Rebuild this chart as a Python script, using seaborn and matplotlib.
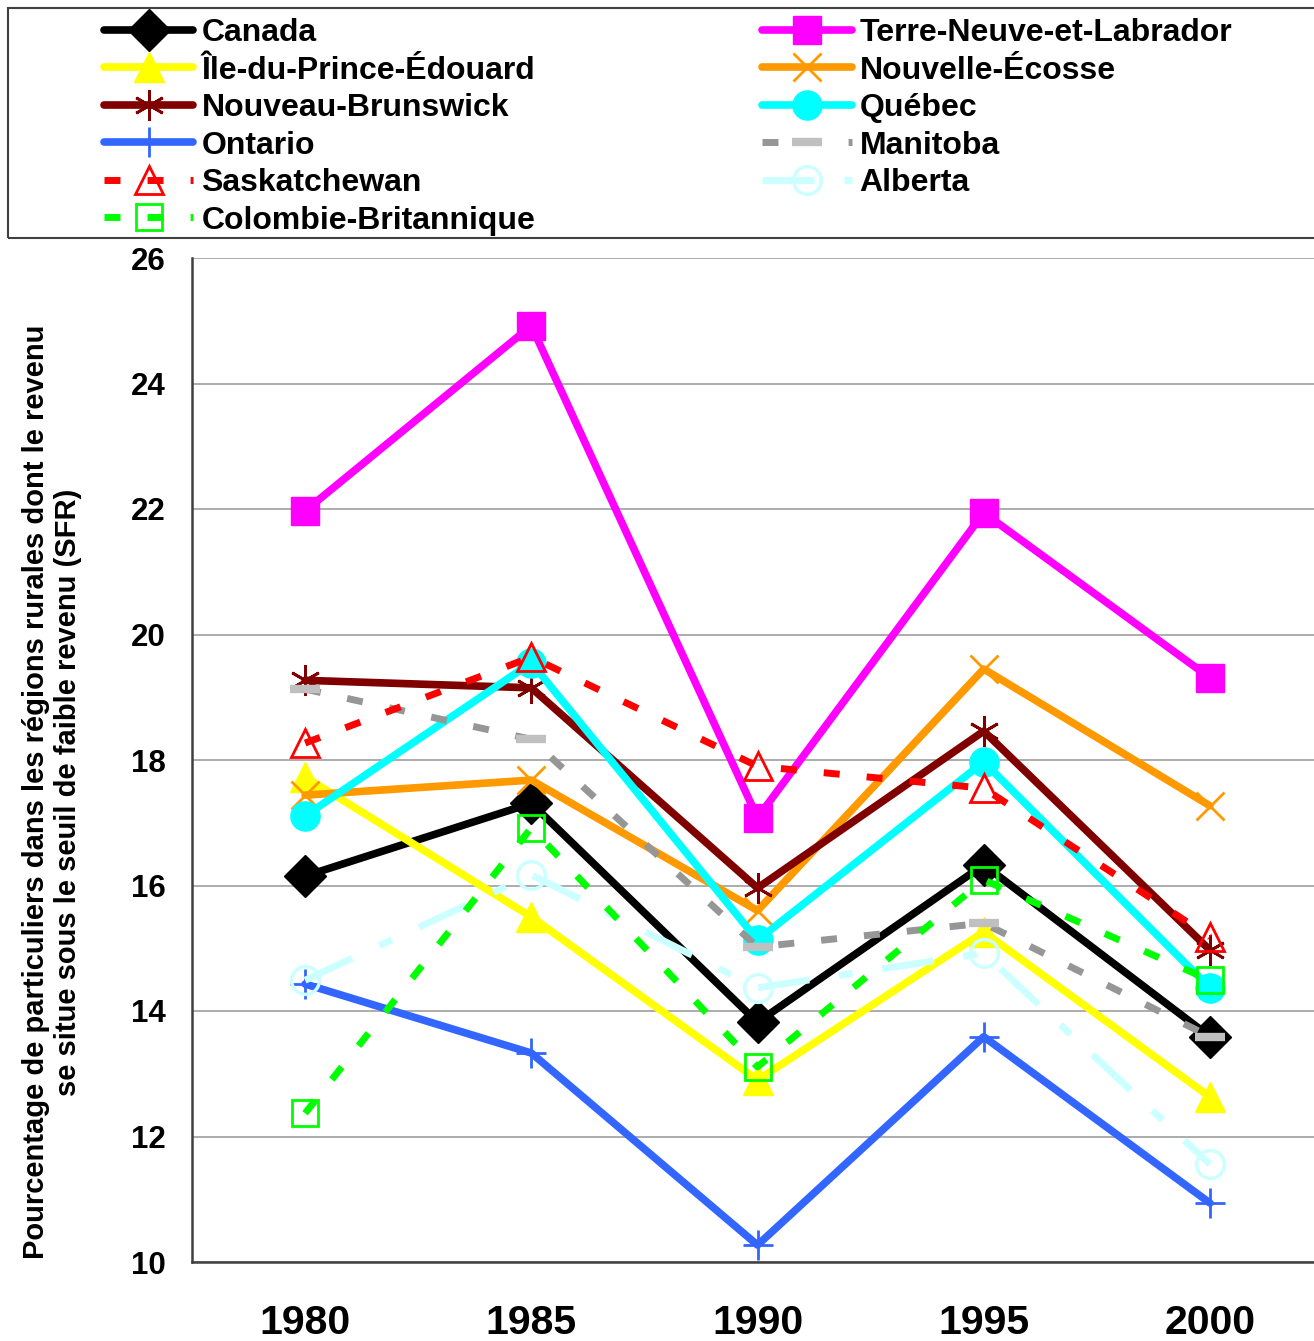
import matplotlib
matplotlib.use("Agg")
import matplotlib.pyplot as plt
import seaborn as sns
import pandas as pd
from matplotlib.patches import Rectangle

years = [1980, 1985, 1990, 1995, 2000]
canada = [16.15, 17.31, 13.82, 16.33, 13.59]
terre_neuve = [21.97, 24.92, 17.08, 21.94, 19.31]
ipe = [17.73, 15.50, 12.90, 15.26, 12.63]
nouvelle_ecosse = [17.44, 17.68, 15.60, 19.45, 17.27]
nouveau_brunswick = [19.27, 19.15, 15.96, 18.46, 14.97]
quebec = [17.11, 19.55, 15.13, 17.97, 14.37]
ontario = [14.43, 13.33, 10.27, 13.59, 10.94]
manitoba = [19.13, 18.33, 15.02, 15.40, 13.59]
saskatchewan = [18.27, 19.64, 17.90, 17.55, 15.18]
alberta = [14.49, 16.17, 14.37, 14.92, 11.56]
colombie_brit = [12.37, 16.92, 13.11, 16.09, 14.49]

names = ["Canada", "Terre-Neuve-et-Labrador", "Île-du-Prince-Édouard",
         "Nouvelle-Écosse", "Nouveau-Brunswick", "Québec", "Ontario",
         "Manitoba", "Saskatchewan", "Alberta", "Colombie-Britannique"]
values = [canada, terre_neuve, ipe, nouvelle_ecosse, nouveau_brunswick, quebec,
          ontario, manitoba, saskatchewan, alberta, colombie_brit]
yticks = [10, 12, 14, 16, 18, 20, 22, 24, 26]
ylabel = ("Pourcentage de particuliers dans les régions rurales dont le revenu\n"
          "se situe sous le seuil de faible revenu (SFR)")

styles = {
    "Canada": dict(color="#000000", lw=5.5, ls="-", marker="D", ms=21,
                   mfc="#000000", mec="#000000", mew=1),
    "Terre-Neuve-et-Labrador": dict(color="#ff00ff", lw=5.5, ls="-", marker="s", ms=20,
                                    mfc="#ff00ff", mec="#ff00ff", mew=1),
    "Île-du-Prince-Édouard": dict(color="#ffff00", lw=5.5, ls="-", marker="^", ms=21,
                                  mfc="#ffff00", mec="#ffff00", mew=1),
    "Nouvelle-Écosse": dict(color="#ff9900", lw=5.5, ls="-", marker="x", ms=20,
                            mfc="#ff9900", mec="#ff9900", mew=2),
    "Nouveau-Brunswick": dict(color="#800000", lw=5.5, ls="-", marker=(6, 2, 0), ms=22,
                              mfc="#800000", mec="#800000", mew=2),
    "Québec": dict(color="#00ffff", lw=5.5, ls="-", marker="o", ms=21,
                   mfc="#00ffff", mec="#00ffff", mew=1),
    "Ontario": dict(color="#3366ff", lw=5.5, ls="-", marker="+", ms=22,
                    mfc="#3366ff", mec="#3366ff", mew=2),
    "Manitoba": dict(color="#969696", lw=5, ls=(0, (2.3, 3.9)), marker="_", ms=22,
                     mfc="#c0c0c0", mec="#c0c0c0", mew=6),
    "Saskatchewan": dict(color="#ff0000", lw=5, ls=(0, (2.3, 3.9)), marker="^", ms=20,
                         mfc="none", mec="#ff0000", mew=2),
    "Alberta": dict(color="#ccffff", lw=5, ls=(0, (7.5, 4.3, 2.0, 4.3)), marker="o", ms=20,
                    mfc="none", mec="#ccffff", mew=2.5),
    "Colombie-Britannique": dict(color="#00ff00", lw=5, ls=(0, (2.3, 3.9)), marker="s", ms=19,
                                 mfc="none", mec="#00ff00", mew=2),
}

df = pd.DataFrame({"Année": years * len(names),
                   "Série": [n for n in names for _ in years],
                   "Valeur": [v for vals in values for v in vals]})

sns.set_theme(style="white")
plt.rcParams["font.family"] = ["Liberation Sans", "DejaVu Sans"]
plt.rcParams["font.weight"] = "bold"
plt.rcParams["text.color"] = "black"
plt.rcParams["xtick.color"] = "black"
plt.rcParams["ytick.color"] = "black"
plt.rcParams["axes.labelcolor"] = "black"

W, H = 1314, 1341
fig = plt.figure(figsize=(W / 100, H / 100), dpi=100)
ax = fig.add_axes([192 / W, 1 - 1262 / H, (W - 192) / W, (1262 - 258) / H])

for name in names:
    st = styles[name]
    sub = df[df["Série"] == name]
    sns.lineplot(data=sub, x="Année", y="Valeur", ax=ax, label=name,
                 color=st["color"], linewidth=st["lw"], linestyle=st["ls"],
                 marker=st["marker"], markersize=st["ms"],
                 markerfacecolor=st["mfc"], markeredgecolor=st["mec"],
                 markeredgewidth=st["mew"], errorbar=None)

handles, labels = ax.get_legend_handles_labels()
ax.get_legend().remove()

ax.set_xlim(1977.5, 2002.3)
ax.set_ylim(10, 26)
ax.set_xticks(years)
ax.set_xticklabels([str(y) for y in years], fontsize=29.5, fontweight="bold", color="black")
ax.set_yticks(yticks)
ax.set_yticklabels([str(t) for t in yticks], fontsize=22.5, fontweight="bold", color="black")
ax.tick_params(axis="x", length=0, pad=30)
ax.tick_params(axis="y", length=0, pad=19)
ax.set_xlabel("")
ax.set_ylabel("")
ax.yaxis.grid(True, color="#a6a6a6", linewidth=1.3)
ax.xaxis.grid(False)
ax.set_axisbelow(True)
for s in ["top", "right"]:
    ax.spines[s].set_visible(False)
for s in ["left", "bottom"]:
    ax.spines[s].set_color("#404040")
    ax.spines[s].set_linewidth(1.8)

fig.text(52 / W, 1 - 792 / H, ylabel, rotation=90, ha="center", va="center",
         multialignment="center", fontsize=21, fontweight="bold", linespacing=1.2,
         color="black")

# legend: row-major order across two columns
col1 = ["Canada", "Île-du-Prince-Édouard", "Nouveau-Brunswick", "Ontario",
        "Saskatchewan", "Colombie-Britannique"]
col2 = ["Terre-Neuve-et-Labrador", "Nouvelle-Écosse", "Québec", "Manitoba", "Alberta"]
hmap = dict(zip(labels, handles))
order = col1 + col2
leg = fig.legend([hmap[n] for n in order], order, loc="upper left",
                 bbox_to_anchor=(104 / W, 1 - 18 / H), ncol=2, frameon=False,
                 prop={"weight": "bold", "size": 23},
                 handlelength=2.8, handletextpad=0.25, columnspacing=7.1,
                 labelspacing=0.235, borderpad=0, borderaxespad=0)
for t in leg.get_texts():
    t.set_color("black")

fig.patches.append(Rectangle((8 / W, 1 - 238 / H), (W + 10 - 8) / W, 230 / H,
                             transform=fig.transFigure, fill=False,
                             edgecolor="#404040", linewidth=1.5, zorder=0))

fig.savefig("out.png", dpi=100)
